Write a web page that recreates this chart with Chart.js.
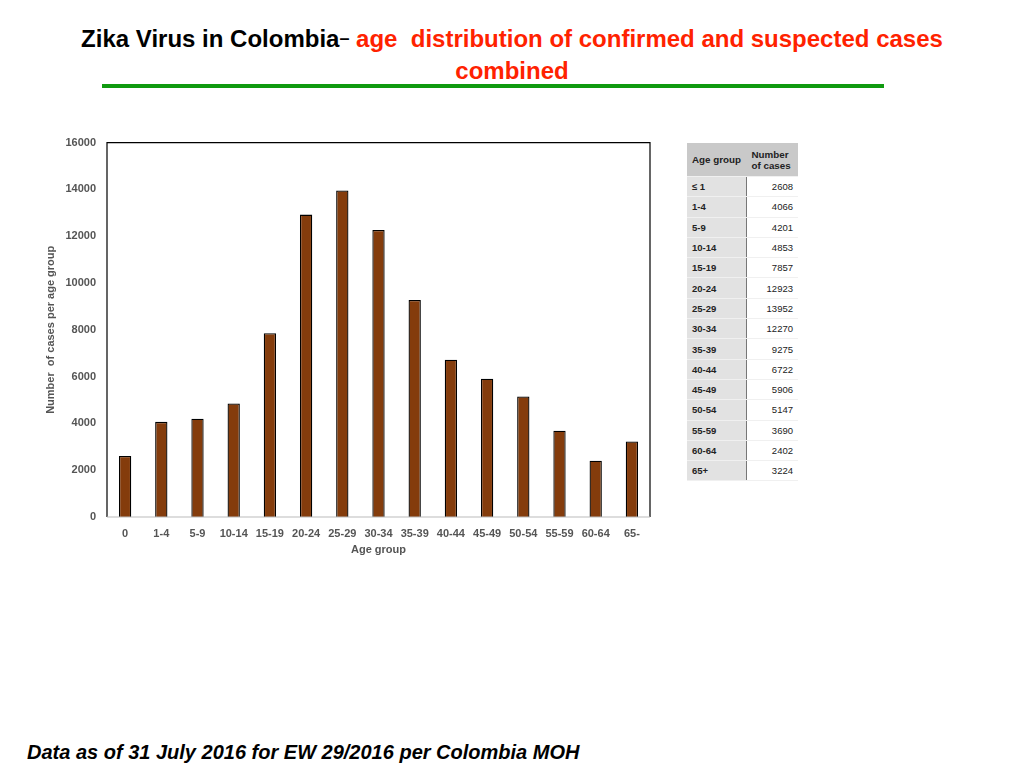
<!DOCTYPE html>
<html><head><meta charset="utf-8">
<script src="https://cdn.jsdelivr.net/npm/chart.js@4"></script>
<style>
html,body{margin:0;padding:0;background:#fff;width:1024px;height:768px;overflow:hidden;position:relative;font-family:"Liberation Sans",Arial,sans-serif;}
#title{position:absolute;left:0;top:22px;width:1024px;text-align:center;font-family:"Liberation Sans Narrow","Liberation Sans",Arial,sans-serif;font-weight:bold;font-size:24px;line-height:32px;}
#title .b{color:#000}
#title .r{color:#ff2200}
#gline{position:absolute;left:102px;top:84px;width:782px;height:4px;background:#109a10;}
#wrap{position:absolute;left:40px;top:125px;width:620px;height:445px;}
#foot{position:absolute;left:27px;top:741px;font-weight:bold;font-style:italic;font-size:20px;color:#000;}
#tbl{position:absolute;left:687px;top:143px;border-collapse:collapse;font-size:9.5px;}
#tbl td{height:19.3px;padding:0 5px;border-bottom:1px solid #f0f0f0;white-space:nowrap;}
#tbl td.a{width:49px;background:#e2e2e2;font-weight:bold;color:#222;}
#tbl td.n{width:41px;text-align:right;color:#222;border-left:1px solid #777;background:#fff;}
#tbl tr.h td{height:33px;background:#c9c9c9;font-weight:bold;color:#222;border-left:none;text-align:left;line-height:11px;vertical-align:middle;font-size:9.8px;}
</style></head>
<body>
<div id="title"><span class="b">Zika Virus in Colombia</span><span class="b" style="font-size:18px;vertical-align:3px">&#8211;</span> <span class="r">age&nbsp; distribution of confirmed and suspected cases<br>combined</span></div>
<div id="gline"></div>
<div id="wrap"><canvas id="c"></canvas></div>
<table id="tbl"></table>
<div id="foot">Data as of 31 July 2016 for EW 29/2016 per Colombia MOH</div>
<script>
const categories = ["0","1-4","5-9","10-14","15-19","20-24","25-29","30-34","35-39","40-44","45-49","50-54","55-59","60-64","65-"];
const cases = [2608,4066,4201,4853,7857,12923,13952,12270,9275,6722,5906,5147,3690,2402,3224];
const tableGroups = ["\u2264 1","1-4","5-9","10-14","15-19","20-24","25-29","30-34","35-39","40-44","45-49","50-54","55-59","60-64","65+"];
const yTicks = [0,2000,4000,6000,8000,10000,12000,14000,16000];

// table
const tbl = document.getElementById('tbl');
let html = '<tr class="h"><td class="a" style="background:#c9c9c9">Age group</td><td class="n" style="background:#c9c9c9">Number<br>of cases</td></tr>';
tableGroups.forEach((g,i)=>{ html += '<tr><td class="a">'+g+'</td><td class="n">'+cases[i]+'</td></tr>'; });
tbl.innerHTML = html;

const frame = {
  id:'frame',
  afterDatasetsDraw(chart){
    const {ctx, chartArea:a} = chart;
    ctx.save();
    ctx.strokeStyle='#000'; ctx.lineWidth=1.2;
    ctx.beginPath();
    ctx.moveTo(a.left,a.bottom); ctx.lineTo(a.left,a.top); ctx.lineTo(a.right,a.top); ctx.lineTo(a.right,a.bottom);
    ctx.stroke();
    ctx.strokeStyle='#bbbbbb';
    ctx.beginPath(); ctx.moveTo(a.left,a.bottom); ctx.lineTo(a.right,a.bottom); ctx.stroke();
    ctx.restore();
  }
};

new Chart(document.getElementById('c'), {
  type:'bar',
  data:{labels:categories, datasets:[{data:cases, backgroundColor:'#843c0c', borderColor:'#000', borderWidth:1.3, categoryPercentage:1, barPercentage:0.34}]},
  options:{
    responsive:true, maintainAspectRatio:false, animation:false,
    layout:{padding:{top:7,right:10,left:0,bottom:0}},
    plugins:{legend:{display:false}, tooltip:{enabled:false}},
    scales:{
      x:{
        grid:{display:false, drawTicks:false}, border:{display:false},
        ticks:{color:'#555', font:{family:'Liberation Sans', weight:'bold', size:11}, padding:10, maxRotation:0, autoSkip:false},
        title:{display:true, text:'Age group', color:'#555', font:{family:'Liberation Sans', weight:'bold', size:11}, padding:{top:0,bottom:13}},
        afterFit(s){ s.height = 53; }
      },
      y:{
        min:0, max:16000,
        afterBuildTicks(s){ s.ticks = yTicks.map(v=>({value:v})); },
        grid:{display:false, drawTicks:false}, border:{display:false},
        ticks:{color:'#555', font:{family:'Liberation Sans', weight:'bold', size:11}, padding:11, callback:v=>String(v)},
        title:{display:true, text:'Number  of cases per age group', color:'#555', font:{family:'Liberation Sans', weight:'bold', size:11}, padding:{bottom:0}},
        afterFit(s){ s.width = 67; }
      }
    }
  },
  plugins:[frame]
});
</script>
</body></html>
